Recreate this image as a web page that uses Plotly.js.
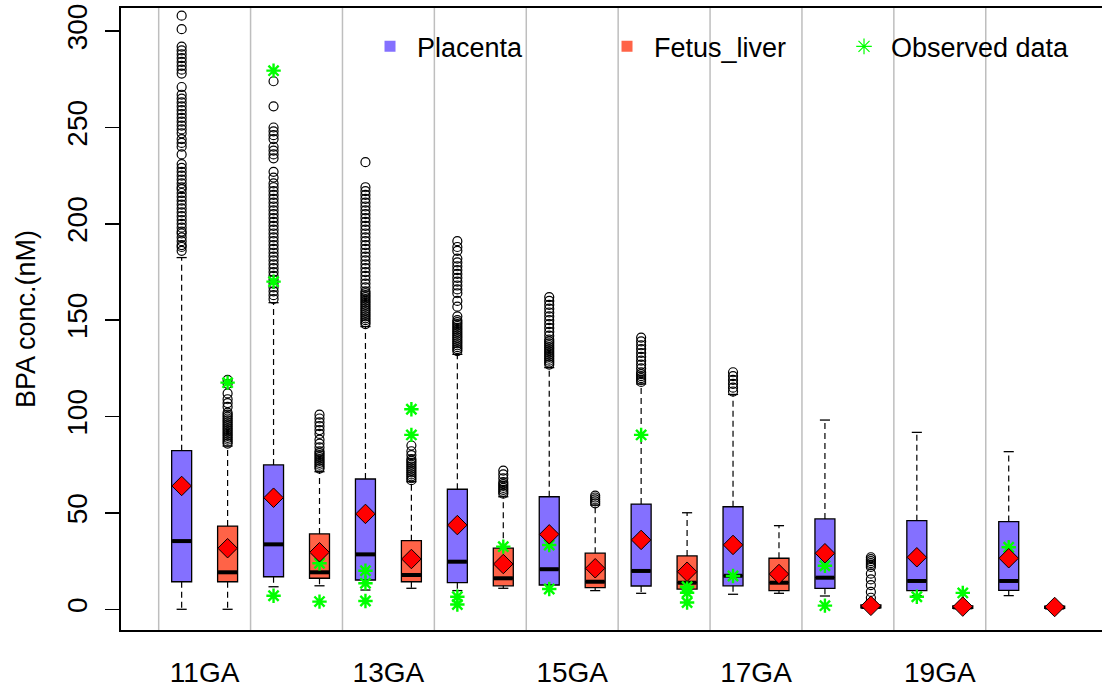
<!DOCTYPE html>
<html><head><meta charset="utf-8">
<script src="https://cdn.plot.ly/plotly-3.0.1.min.js"></script>
<style>html,body{margin:0;padding:0;background:#fff;overflow:hidden}#chart{width:1102px;height:688px}</style>
</head><body><div id="chart"></div>
<script>
// ---------- data ----------
const groups = ['11GA','12GA','13GA','14GA','15GA','16GA','17GA','18GA','19GA','20GA'];
const xTickLabels = ['11GA','13GA','15GA','17GA','19GA'];

const placentaQ1     = [14.3, 16.9, 15.2, 13.8, 12.6, 12.1, 12.2, 10.9, 9.7, 9.8];
const placentaMedian = [35.4, 33.7, 28.5, 24.7, 20.8, 19.9, 17.4, 16.4, 14.7, 14.7];
const placentaQ3     = [82.3, 74.9, 67.6, 62.3, 58.4, 54.6, 53.2, 46.9, 46.0, 45.5];
const placentaLow    = [0, 11.7, 10.0, 9.7, 10.5, 8.3, 7.8, 6.9, 7.0, 7.1];
const placentaHigh   = [182.5, 159.1, 146.7, 132.3, 125.4, 116.9, 111.5, 98.2, 91.8, 81.8];
const placentaMean   = [64.0, 57.9, 49.5, 43.7, 38.9, 36.0, 33.4, 29.1, 27.0, 26.5];

const liverQ1     = [14.3, 16.1, 14.3, 12.2, 11.2, 10.5, 9.7, 0.7, 0.5, 0.5];
const liverMedian = [19.2, 19.2, 17.8, 16.1, 14.3, 13.8, 13.8, 1.2, 1.0, 0.9];
const liverQ3     = [43.2, 39.1, 35.6, 31.7, 29.1, 27.7, 26.5, 2.3, 1.8, 1.6];
const liverLow    = [0, 12.2, 10.9, 10.9, 9.7, 9.0, 8.3, 0.1, 0.1, 0.1];
const liverHigh   = [84.7, 71.4, 66.2, 58.4, 54.1, 50.1, 43.4, 4.5, 3.2, 2.9];
const liverMean   = [31.7, 29.6, 26.1, 23.5, 21.3, 19.5, 18.3, 1.8, 1.4, 1.2];

const placentaOutliers = [
  [186,188,189,191,193,195,196,198,200,202,204,206,208,210,212,214,216,218,219,221,223,225,227,229,231,236,240,242,244,247,249,251,253,255,257,259,261,263,265,267,271,278,280,282,284,286,288,290,292,301,308],
  [161,163,165,167,169,171,173,175,177,179,181,183,185,187,189,191,193,195,197,199,201,203,205,207,209,211,213,215,217,219,221,224,227,234,236,238,240,244,246,248,250,261,274],
  [148,149,150,151,152,153,154,155,156,157,158,159,160,161,162,163,164,165,167,169,171,173,175,177,179,181,183,185,187,189,191,193,195,197,199,201,203,205,207,209,211,213,215,217,219,232],
  [134,135,136,137,138,139,140,141,142,143,144,145,146,147,148,149,150,152,157,160,164,166,168,170,172,174,176,178,180,182,186,188,191],
  [127,128,129,130,131,132,133,134,135,136,137,138,139,140,142,144,146,148,150,152,154,156,158,160,162],
  [118,119,120,121,122,123,125,127,129,131,133,135,137,139,141],
  [113,115,117,119,121,123],
  [], [], []
];
const liverOutliers = [
  [86,87,88,89,90,91,92,93,94,95,96,97,98,99,100,101,102,105,107,109,112,117,119],
  [73,74,75,76,77,78,79,80,81,82,84,86,88,91,93,95,97,99,101],
  [67,68,69,70,71,72,73,74,75,76,77,78,80,82,85],
  [60,61,62,63,64,65,66,68,70,72],
  [55,56,57,58,59],
  [], [],
  [6,9,12.5,15.5,18.5,22,23,24,25,26,27],
  [], []
];
const placentaObserved = [[], [279.5,170,7], [20,13.5,4.3], [6.5,2.5], [33.4,10.5], [90.5], [17.3], [22.6,1.9], [6.5], [32.2]];
const liverObserved    = [[117.6], [23.9,4], [103.8,90.5], [32.5], [], [11.7,8.6,3.5], [], [], [8.5], []];

// ---------- styling ----------
const FONT = 'Liberation Sans, Arial, sans-serif';
const PURPLE = '#8470FF', TOMATO = '#FF6347', GREEN = '#00FF00';
const BOXW = 0.435, CAPHALF = 0.11;

const pPos = groups.map((g,i) => 2*i + 1);
const lPos = groups.map((g,i) => 2*i + 2);
const sepPos = groups.map((g,i) => 2*i + 0.5);
const tickPos = xTickLabels.map((t) => 2*groups.indexOf(t) + 1.5);

function hSegs(xs, ys, half){ const X=[],Y=[]; xs.forEach((x,i)=>{X.push(x-half,x+half,null);Y.push(ys[i],ys[i],null);}); return {X,Y}; }
function vSegs(xs, a, b){ const X=[],Y=[]; xs.forEach((x,i)=>{ if(a[i]!==b[i]){X.push(x,x,null);Y.push(a[i],b[i],null);} }); return {X,Y}; }
function pts(xs, lists){ const X=[],Y=[]; xs.forEach((x,i)=>lists[i].forEach(v=>{X.push(x);Y.push(v);})); return {X,Y}; }

const traces = [];
function addSeries(pos, q1, med, q3, color){
  traces.push({type:'box', x:pos, q1:q1, median:med, q3:q3, lowerfence:q1, upperfence:q3,
    width:BOXW, fillcolor:color, line:{color:'#000', width:1.3}, boxpoints:false, showlegend:false, hoverinfo:'skip'});
}
addSeries(pPos, placentaQ1, placentaMedian, placentaQ3, PURPLE);
addSeries(lPos, liverQ1, liverMedian, liverQ3, TOMATO);

const allPos = pPos.concat(lPos);
const allMed = placentaMedian.concat(liverMedian);
const allQ1 = placentaQ1.concat(liverQ1), allQ3 = placentaQ3.concat(liverQ3);
const allLo = placentaLow.concat(liverLow), allHi = placentaHigh.concat(liverHigh);

let s = hSegs(allPos, allMed, BOXW/2 - 0.01);
traces.push({type:'scatter', mode:'lines', x:s.X, y:s.Y, line:{color:'#000', width:4}, showlegend:false, hoverinfo:'skip'});
let wu = vSegs(allPos, allQ3, allHi), wl = vSegs(allPos, allQ1, allLo);
traces.push({type:'scatter', mode:'lines', x:wu.X.concat(wl.X), y:wu.Y.concat(wl.Y), line:{color:'#000', width:1.2, dash:'6px,4px'}, showlegend:false, hoverinfo:'skip'});
let cu = hSegs(allPos, allHi, CAPHALF), cl = hSegs(allPos, allLo, CAPHALF);
traces.push({type:'scatter', mode:'lines', x:cu.X.concat(cl.X), y:cu.Y.concat(cl.Y), line:{color:'#000', width:1.3}, showlegend:false, hoverinfo:'skip'});

let o = pts(allPos, placentaOutliers.concat(liverOutliers));
traces.push({type:'scatter', mode:'markers', x:o.X, y:o.Y, marker:{symbol:'circle-open', size:9, color:'#000', line:{width:1.2}}, showlegend:false, hoverinfo:'skip'});

let ob = pts(allPos, placentaObserved.concat(liverObserved));
traces.push({type:'scatter', mode:'markers', x:ob.X, y:ob.Y, marker:{symbol:'asterisk-open', size:12, color:GREEN, line:{color:GREEN, width:2.4}}, showlegend:false, hoverinfo:'skip'});

traces.push({type:'scatter', mode:'markers', x:allPos, y:placentaMean.concat(liverMean), marker:{symbol:'diamond', size:15, color:'#FF0000', line:{color:'#000', width:1}}, showlegend:false, hoverinfo:'skip'});

// legend entries
traces.push({type:'scatter', mode:'markers', x:[null], y:[null], name:'Placenta', marker:{symbol:'square', size:11, color:PURPLE}});
traces.push({type:'scatter', mode:'markers', x:[null], y:[null], name:'Fetus_liver', marker:{symbol:'square', size:11, color:TOMATO}});
traces.push({type:'scatter', mode:'markers', x:[null], y:[null], name:'Observed data', marker:{symbol:'asterisk-open', size:13, color:GREEN, line:{color:GREEN, width:1.2}}});

const layout = {
  width:1102, height:688,
  margin:{l:121, r:0, t:8, b:58, pad:0},
  paper_bgcolor:'#fff', plot_bgcolor:'#fff',
  font:{family:FONT, size:26, color:'#000'},
  boxmode:'overlay',
  showlegend:true,
  legend:{orientation:'h', x:0.2467, xanchor:'left', y:0.977, yanchor:'top', itemwidth:44, entrywidth:178, entrywidthmode:'pixels',
          font:{family:FONT, size:27, color:'#000'}, bgcolor:'rgba(0,0,0,0)', borderwidth:0, traceorder:'normal'},
  xaxis:{range:[-0.32, 21.03], tickmode:'array', tickvals:tickPos, ticktext:xTickLabels, ticks:'', showgrid:false, zeroline:false,
         showline:true, mirror:true, linecolor:'#000', linewidth:2, ticklabelstandoff:16, tickfont:{size:28}},
  yaxis:{range:[-10.74, 312], tickmode:'array', tickvals:[0,50,100,150,200,250,300], ticks:'outside', ticklen:14, tickwidth:1.5, tickcolor:'#000',
         tickangle:-90, showgrid:false, zeroline:false, showline:true, linecolor:'#000', linewidth:2, ticklabelstandoff:7, tickfont:{size:28},
         title:{text:'BPA conc.(nM)', font:{size:27}, standoff:18}},
  shapes: sepPos.map(x => ({type:'line', xref:'x', yref:'paper', x0:x, x1:x, y0:0, y1:1, line:{color:'#BEBEBE', width:1.5}, layer:'below'}))
};
Plotly.newPlot('chart', traces, layout, {staticPlot:true, displayModeBar:false});
</script></body></html>
